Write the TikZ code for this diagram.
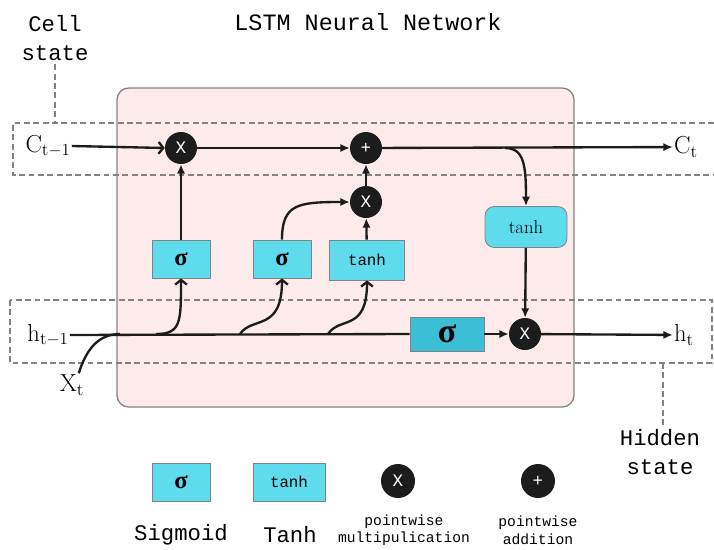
\documentclass[tikz,border=0pt]{standalone}
\usepackage{fontspec}
\usepackage{tikz}
\usetikzlibrary{arrows.meta,positioning}
\newfontfamily\monofont{Liberation Mono}
\newfontfamily\greekfont{Liberation Serif}
\definecolor{LSTMCyan}{RGB}{94,220,238}
\definecolor{LSTMTeal}{RGB}{60,190,215}
\definecolor{LSTMPink}{RGB}{253,235,235}
\definecolor{LSTMGray}{RGB}{130,130,130}
\definecolor{LSTMDark}{RGB}{28,28,28}
\newcommand{\gsig}[1]{{\greekfont\bfseries\fontsize{#1}{#1}\selectfont σ}}

\begin{document}
\begin{tikzpicture}[
  x=0.03cm,y=-0.03cm,
  gate/.style={draw=LSTMGray,fill=LSTMCyan,line width=0.7pt,inner sep=0pt,
               minimum width=1.74cm,minimum height=1.14cm},
  op/.style={circle,fill=LSTMDark,text=white,minimum size=0.96cm,inner sep=0pt,
             font=\monofont\fontsize{15}{15}\selectfont},
  arr/.style={-{Latex[length=8pt,width=7pt]},line width=2pt,LSTMDark},
  barb/.style={-{Straight Barb[length=4pt,width=10pt]},line width=2pt,LSTMDark},
  wire/.style={line width=2pt,LSTMDark},
  band/.style={LSTMGray,line width=1pt,dash pattern=on 5pt off 3pt},
  lbl/.style={inner sep=1pt,font=\fontsize{21}{21}\selectfont},
  mono/.style={align=center,font=\monofont\fontsize{19}{24}\selectfont},
  note/.style={align=center,font=\monofont\fontsize{12.5}{15}\selectfont},
]
\useasboundingbox (0,0) rectangle (714,549);
% cell body and state bands
\draw[draw=LSTMGray,fill=LSTMPink,rounded corners=10pt,line width=1.1pt] (117,88) rectangle (574,407);
\draw[band] (714,123) -- (13,123) -- (13,175) -- (714,175);
\draw[band] (10,300) rectangle (712,363);

\node[mono,font=\monofont\fontsize{20}{20}\selectfont] (title) at (368,22) {LSTM Neural Network};
\node[mono] (cellst) at (55,38) {Cell\\state};
\node[mono] (hidst) at (660,452) {Hidden\\state};
\coordinate (celltop) at (55,123);
\coordinate (hidbot) at (663,363);
\draw[band] (cellst.south) -- (celltop);
\draw[band] (hidbot) -- (hidbot |- hidst.north);

% gates and pointwise ops
\node[lbl] (cprev) at (48,146) {$\mathrm{C}_{\mathrm{t}-1}$};
\node[op] (mulf) at (181,148) {X};
\node[op] (addc) at (366,148) {+};
\node[op] (muli) at (366,202) {X};
\node[lbl] (cnext) at (686,147) {$\mathrm{C}_{\mathrm{t}}$};
\node[gate] (sigf) at (181,259) {\gsig{21}};
\node[gate] (sigi) at (282,259) {\gsig{21}};
\node[gate,minimum width=2.25cm,minimum height=1.2cm,font=\monofont\fontsize{13.5}{13.5}\selectfont] (tanc) at (367,260) {tanh};
\node[gate,rounded corners=8pt,minimum width=2.46cm,minimum height=1.23cm,font=\fontsize{16}{16}\selectfont] (tanho) at (526,227) {tanh};
\node[gate,fill=LSTMTeal,minimum width=2.22cm,minimum height=1.02cm] (sigo) at (447,334) {\gsig{29}};
\node[op] (mulo) at (525,334) {X};
\node[lbl] (hprev) at (48,335) {$\mathrm{h}_{\mathrm{t}-1}$};
\node[lbl] (hnext) at (684,335) {$\mathrm{h}_{\mathrm{t}}$};
\node[lbl] (xt) at (72,385) {$\mathrm{X}_{\mathrm{t}}$};

\coordinate (xjoin) at (120,334);
\coordinate (brf) at (156,334);
\coordinate (bri) at (240,334);
\coordinate (brc) at (328,334);
\coordinate (brt) at (505,148);

% cell state line
\draw[barb] (cprev.east) -- (mulf.west);
\draw[arr] (mulf) -- (addc);
\draw[arr] (addc) -- (cnext);
\draw[arr] (brt) .. controls (524,148) and (526,165) .. (tanho.north);
\draw[arr] (tanho) -- (mulo);
\draw[arr] (muli) -- (addc);
\draw[arr] (sigf) -- (mulf);
\draw[arr] (sigi.north) .. controls (282,204) and (298,202) .. (muli.west);
\draw[arr] (tanc) -- (muli);

% hidden state line
\draw[wire] (hprev.east) -- (sigo.west);
\draw[arr] (sigo) -- (mulo);
\draw[arr] (mulo) -- (hnext);
\draw[wire] (xt.60) .. controls (86,350) and (98,334) .. (xjoin);
\draw[barb] (brf) .. controls (181,334) and (181,322) .. (sigf.south);
\draw[barb] (bri) .. controls (252,316) and (282,332) .. (sigi.south);
\draw[barb] (brc) .. controls (340,316) and (367,332) .. (tanc.south);

% legend
\node[gate] (lgsig) at (181,482) {\gsig{21}};
\node[gate,minimum width=2.16cm,font=\monofont\fontsize{13.5}{13.5}\selectfont] (lgtanh) at (289,482) {tanh};
\node[op,minimum size=1.02cm] (lgmul) at (398,481) {X};
\node[op,minimum size=1.02cm] (lgadd) at (538,481) {+};
\node[mono] (lgsigt) at (181,535) {Sigmoid};
\node[mono] (lgtanht) at (290,535) {Tanh};
\node[note] (lgmult) at (404,530) {pointwise\\multipulication};
\node[note] (lgaddt) at (538,530) {pointwise\\addition};
\end{tikzpicture}
\end{document}
